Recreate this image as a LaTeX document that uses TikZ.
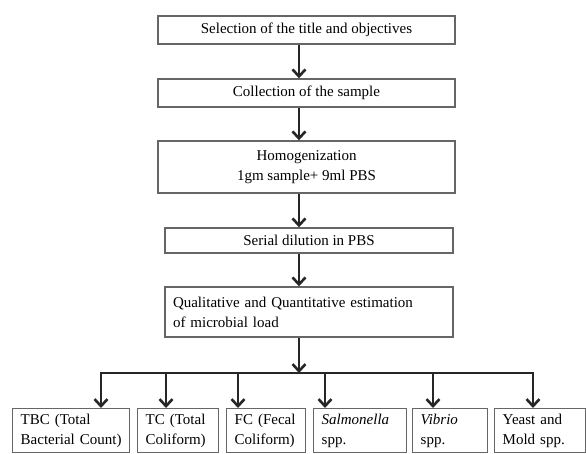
\documentclass[tikz,border=0pt]{standalone}
\usepackage{fontspec}
\setmainfont{Liberation Serif}
\usetikzlibrary{arrows.meta}

\begin{document}
\begin{tikzpicture}[x=1pt, y=-1pt, >={Straight Barb[length=7pt,width=13pt]}, font=\fontsize{15}{20}\selectfont,
  step node/.style={draw=black!60, line width=1.4pt, inner sep=0pt, minimum width=297pt, minimum height=28pt, align=center},
  leaf node/.style={draw=black!60, line width=1.4pt, anchor=north west, inner xsep=8pt, inner ysep=0pt, minimum height=44pt, align=left},
  flow/.style={->, draw=black!85, line width=2.6pt}]

  \useasboundingbox (0,0) rectangle (586,454);

  % Define nodes
  \node[step node] (title) at (306.5,30) {Selection of the title and objectives};
  \node[step node] (collect) at (306.5,93) {Collection of the sample};
  \node[step node, minimum height=52pt] (homog) at (306.5,167) {Homogenization\\1gm sample+ 9ml PBS};
  \node[step node, minimum width=288pt, minimum height=25pt] (dilute) at (309,240.5) {Serial dilution in PBS};
  \node[step node, minimum width=288pt, minimum height=50pt, text width=272pt, align=left] (estimate) at (309,312)
    {Qualitative and Quantitative estimation\\of microbial load};

  \node[leaf node, text width=101pt] (tbc) at (12,408) {TBC (Total\\Bacterial Count)};
  \node[leaf node, text width=65pt] (tc) at (137,408) {TC (Total\\Coliform)};
  \node[leaf node, text width=63pt] (fc) at (226,408) {FC (Fecal\\Coliform)};
  \node[leaf node, text width=77pt] (salm) at (313,408) {\textit{Salmonella}\\spp.};
  \node[leaf node, text width=59pt] (vib) at (412,408) {\textit{Vibrio}\\spp.};
  \node[leaf node, text width=75pt] (yeast) at (494,408) {Yeast and\\Mold spp.};

  % Define spine and bus points
  \coordinate (spine) at (299,0);
  \coordinate (hub) at (299,373);
  \coordinate (d1) at (101,373);
  \coordinate (d2) at (166,373);
  \coordinate (d3) at (238,373);
  \coordinate (d4) at (325,373);
  \coordinate (d5) at (433,373);
  \coordinate (d6) at (533,373);

  % Define edges
  \draw[flow] (spine |- title.south) -- (spine |- collect.north);
  \draw[flow] (spine |- collect.south) -- (spine |- homog.north);
  \draw[flow] (spine |- homog.south) -- (spine |- dilute.north);
  \draw[flow] (spine |- dilute.south) -- (spine |- estimate.north);
  \draw[flow] (spine |- estimate.south) -- (hub);
  \draw[draw=black!85, line width=2.6pt, line cap=rect] (d1) -- (d6);
  \draw[flow] (d1) -- (d1 |- tbc.north);
  \draw[flow] (d2) -- (d2 |- tc.north);
  \draw[flow] (d3) -- (d3 |- fc.north);
  \draw[flow] (d4) -- (d4 |- salm.north);
  \draw[flow] (d5) -- (d5 |- vib.north);
  \draw[flow] (d6) -- (d6 |- yeast.north);
\end{tikzpicture}
\end{document}
